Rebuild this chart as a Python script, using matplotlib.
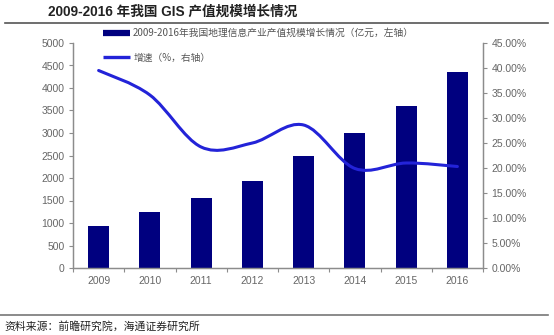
import matplotlib
matplotlib.use('Agg')
import matplotlib.pyplot as plt
import numpy as np
from matplotlib.path import Path
from matplotlib.patches import PathPatch
from matplotlib.lines import Line2D
from matplotlib.ticker import FixedLocator, PercentFormatter

plt.rcParams['font.family'] = ['Liberation Sans', 'Noto Sans CJK SC', 'DejaVu Sans']

years = ['2009', '2010', '2011', '2012', '2013', '2014', '2015', '2016']
output = [930, 1250, 1550, 1940, 2490, 2995, 3610, 4345]        # 亿元
growth = [39.5, 34.6, 24.2, 25.0, 28.6, 19.9, 21.0, 20.3]       # %

bar_label = '2009-2016年我国地理信息产业产值规模增长情况（亿元，左轴）'
line_label = '增速（%，右轴）'
title = '2009-2016 年我国 GIS 产值规模增长情况'
source = '资料来源：前瞻研究院，海通证券研究所'

navy = '#00007f'
blue = '#2323d8'
grey = '#8c8c8c'
label_grey = '#666666'
cjk = ['Noto Sans CJK SC', 'DejaVu Sans']

fig = plt.figure(figsize=(5.54, 3.35), dpi=100)
ax = fig.add_axes([73/554, 1-268/335, 410/554, 225/335])
ax2 = ax.twinx()

x = np.arange(len(years))
ax.bar(x, output, width=0.41, color=navy, zorder=2)
ax.set_xlim(-0.5, len(years) - 0.5)
ax.set_ylim(0, 5000)
ax.set_yticks(np.arange(0, 5001, 500))
ax.set_xticks(x)
ax.set_xticklabels(years)
ax.xaxis.set_minor_locator(FixedLocator(np.arange(-0.5, len(years), 1)))

ax2.set_ylim(0, 45)
ax2.set_yticks(np.arange(0, 46, 5))
ax2.yaxis.set_major_formatter(PercentFormatter(decimals=2))

# smoothed growth line (Catmull-Rom -> cubic bezier through the data points)
pts = np.column_stack([x, growth]).astype(float)
ext = np.vstack([pts[0], pts, pts[-1]])
verts = [pts[0]]
codes = [Path.MOVETO]
for i in range(len(pts) - 1):
    p0, p1, p2, p3 = ext[i], ext[i+1], ext[i+2], ext[i+3]
    c1 = p1 + (p2 - p0) / 6.0
    c2 = p2 - (p3 - p1) / 6.0
    verts += [c1, c2, p2]
    codes += [Path.CURVE4] * 3
ax2.add_patch(PathPatch(Path(verts, codes), fill=False, edgecolor=blue,
                        lw=2.2, capstyle='round', zorder=3))

for a in (ax, ax2):
    a.spines['top'].set_visible(False)
    for s in ('left', 'right', 'bottom'):
        a.spines[s].set_color(grey)
        a.spines[s].set_linewidth(0.9)
    a.tick_params(axis='y', colors=grey, labelcolor=label_grey, labelsize=7.5,
                  length=3, width=0.8, direction='out', pad=3)
ax.tick_params(axis='x', which='major', length=0, labelsize=7.5,
               labelcolor=label_grey, pad=6)
ax.tick_params(axis='x', which='minor', length=3, width=0.8, color=grey,
               direction='out')

handles = [Line2D([], [], color=navy, lw=4.5, solid_capstyle='butt'),
           Line2D([], [], color=blue, lw=2.4, solid_capstyle='butt')]
leg = fig.legend(handles, [bar_label, line_label], loc='upper left',
                 bbox_to_anchor=(103/554, 1-28/335), frameon=False,
                 prop={'family': cjk, 'size': 7}, handlelength=2.8,
                 handletextpad=0.3, labelspacing=1.5, borderaxespad=0,
                 borderpad=0)
for t in leg.get_texts():
    t.set_color('#555555')

fig.text(48/554, 1-12/335, title, ha='left', va='center', fontsize=9.8,
         fontweight='bold', family=['Liberation Sans', 'Noto Sans CJK SC'],
         color='#222222')
fig.add_artist(Line2D([5/554, 548/554], [1-22.5/335, 1-22.5/335],
                      color='#555555', lw=1.2))
fig.add_artist(Line2D([0, 548/554], [1-315/335, 1-315/335],
                      color='#777777', lw=1.2))
fig.text(4/554, 1-326/335, source, ha='left', va='center', fontsize=7.8,
         family=cjk, color='#222222')

fig.savefig('out.png', dpi=100, facecolor='white')
